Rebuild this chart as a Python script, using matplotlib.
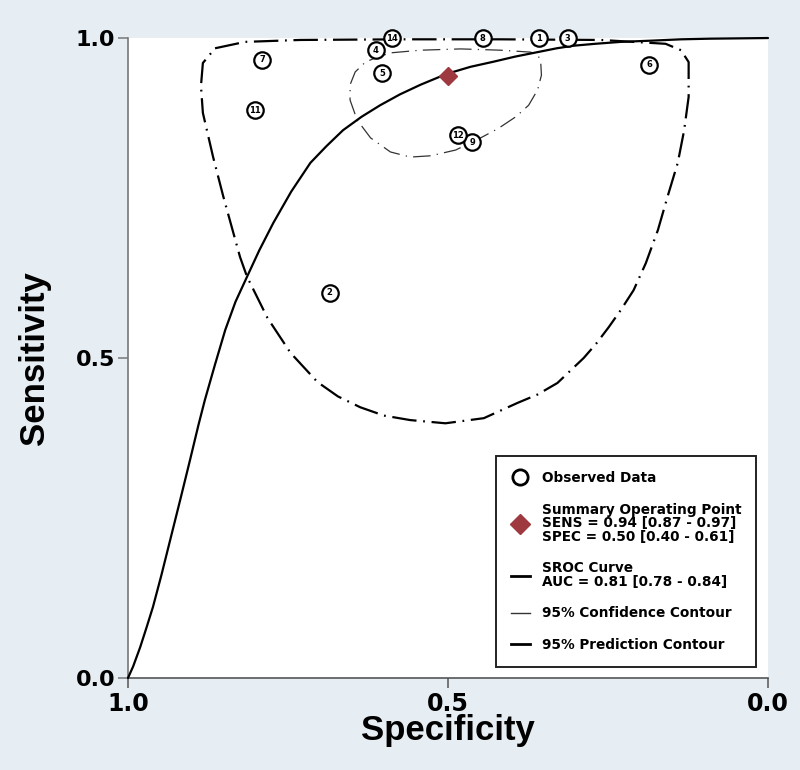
import matplotlib
matplotlib.use("Agg")
import matplotlib.pyplot as plt
from matplotlib.lines import Line2D

# ---------------- data ----------------
study_labels = ["1", "2", "3", "4", "5", "6", "7", "8", "9", "11", "12", "14"]
study_spec = [0.358, 0.685, 0.313, 0.613, 0.603, 0.186, 0.790, 0.446, 0.462, 0.801, 0.485, 0.587]
study_sens = [1.000, 0.602, 1.000, 0.981, 0.945, 0.958, 0.966, 1.000, 0.8375, 0.8875, 0.848, 1.000]

summary_spec = 0.50
summary_sens = 0.94

sroc_spec = [1.0, 0.992, 0.981, 0.971, 0.961, 0.948, 0.934, 0.918, 0.903, 0.890,
             0.880, 0.864, 0.848, 0.832, 0.814, 0.795, 0.773, 0.745, 0.715, 0.690,
             0.664, 0.635, 0.606, 0.575, 0.543, 0.502, 0.465, 0.429, 0.395, 0.360,
             0.330, 0.304, 0.270, 0.230, 0.180, 0.136, 0.090, 0.0]
sroc_sens = [0.0, 0.018, 0.048, 0.079, 0.111, 0.160, 0.216, 0.280, 0.341, 0.395,
             0.434, 0.490, 0.544, 0.588, 0.627, 0.668, 0.711, 0.760, 0.805, 0.831,
             0.856, 0.877, 0.895, 0.912, 0.927, 0.944, 0.955, 0.963, 0.971, 0.978,
             0.984, 0.988, 0.991, 0.994, 0.996, 0.998, 0.999, 1.0]

conf_spec = [0.588, 0.543, 0.480, 0.418, 0.371, 0.359, 0.355, 0.354, 0.360, 0.374, 0.394,
             0.421, 0.449, 0.488, 0.527, 0.559, 0.590, 0.621, 0.642, 0.653, 0.653,
             0.645, 0.629, 0.606, 0.588]
conf_sens = [0.977, 0.981, 0.983, 0.981, 0.978, 0.973, 0.960, 0.942, 0.919, 0.895, 0.877,
             0.859, 0.844, 0.825, 0.816, 0.814, 0.822, 0.844, 0.872, 0.903, 0.927,
             0.947, 0.9625, 0.972, 0.977]

pred_spec = [0.864, 0.817, 0.731, 0.574, 0.418, 0.261, 0.160, 0.136, 0.124, 0.124,
             0.131, 0.141, 0.157, 0.172, 0.191, 0.210, 0.230, 0.249, 0.268, 0.288,
             0.329, 0.360, 0.391, 0.444, 0.504, 0.559, 0.600, 0.637, 0.672, 0.704,
             0.746, 0.782, 0.814, 0.825, 0.851, 0.867, 0.883, 0.886, 0.883, 0.864]
pred_sens = [0.984, 0.994, 0.997, 0.998, 0.998, 0.997, 0.991, 0.981, 0.9625, 0.908,
             0.856, 0.805, 0.752, 0.700, 0.648, 0.606, 0.575, 0.548, 0.523, 0.500,
             0.461, 0.443, 0.430, 0.406, 0.398, 0.403, 0.410, 0.423, 0.440, 0.4625,
             0.508, 0.5625, 0.627, 0.658, 0.752, 0.814, 0.883, 0.925, 0.961, 0.984]

x_ticks = [1.0, 0.5, 0.0]
y_ticks = [0.0, 0.5, 1.0]
x_tick_labels = ["1.0", "0.5", "0.0"]
y_tick_labels = ["0.0", "0.5", "1.0"]

legend_labels = [
    "Observed Data",
    "Summary Operating Point\nSENS = 0.94 [0.87 - 0.97]\nSPEC = 0.50 [0.40 - 0.61]",
    "SROC Curve\nAUC = 0.81 [0.78 - 0.84]",
    "95% Confidence Contour",
    "95% Prediction Contour",
]

# ---------------- figure ----------------
BG = "#e6eef3"
fig = plt.figure(figsize=(8.0, 7.7), dpi=100, facecolor=BG)
ax = fig.add_axes([0.16, 0.1195, 0.80, 0.8311])
ax.set_facecolor("white")

ax.set_xlim(1.0, 0.0)
ax.set_ylim(0.0, 1.0)

# prediction contour
ax.plot(pred_spec, pred_sens, color="black", lw=1.6,
        linestyle=(0, (11, 3, 0.8, 3)), clip_on=False, zorder=2)
# confidence contour
ax.plot(conf_spec, conf_sens, color="#333333", lw=0.9,
        linestyle=(0, (14, 5, 1, 5)), clip_on=False, zorder=2)
# SROC curve
ax.plot(sroc_spec, sroc_sens, color="black", lw=1.6, clip_on=False, zorder=3,
        solid_capstyle="round", solid_joinstyle="round")

# observed data
ax.scatter(study_spec, study_sens, s=140, facecolor="white", edgecolor="black",
           linewidth=1.6, zorder=5, clip_on=False)
for lab, sx, sy in zip(study_labels, study_spec, study_sens):
    ax.text(sx, sy, lab, ha="center", va="center", fontsize=6,
            fontweight="bold", family="DejaVu Sans", zorder=6, clip_on=False)

# summary point
ax.plot([summary_spec], [summary_sens], marker="D", color="#9e3a3f",
        markersize=9, linestyle="none", zorder=7)

# axes styling
for side in ["top", "right"]:
    ax.spines[side].set_visible(False)
ax.spines["left"].set_color("#777777")
ax.spines["bottom"].set_color("#555555")
ax.spines["left"].set_linewidth(1.2)
ax.spines["bottom"].set_linewidth(1.2)

ax.set_xticks(x_ticks)
ax.set_xticklabels(x_tick_labels, fontsize=17, fontweight="bold", family="DejaVu Sans")
ax.set_yticks(y_ticks)
ax.set_yticklabels(y_tick_labels, fontsize=16, fontweight="bold", family="DejaVu Sans")
ax.tick_params(axis="x", length=7, width=1.1, color="#555555", pad=3)
ax.tick_params(axis="y", length=7, width=1.1, color="#777777", pad=2)

ax.set_xlabel("Specificity", fontsize=25, fontweight="bold",
              family="Liberation Sans", labelpad=-1)
ax.set_ylabel("Sensitivity", fontsize=25, fontweight="bold",
              family="Liberation Sans", labelpad=18)

# legend
handles = [
    Line2D([], [], marker="o", linestyle="none", markersize=11,
           markerfacecolor="white", markeredgecolor="black", markeredgewidth=2),
    Line2D([], [], marker="D", linestyle="none", markersize=10, color="#9e3a3f"),
    Line2D([], [], color="black", lw=2.0),
    Line2D([], [], color="#333333", lw=1.0),
    Line2D([], [], color="black", lw=2.0),
]
leg = ax.legend(handles, legend_labels, loc="lower right",
                bbox_to_anchor=(0.982, 0.017), frameon=True, fancybox=False,
                edgecolor="#222222", facecolor="white", framealpha=1,
                handlelength=1.4, handletextpad=0.9, labelspacing=1.3,
                borderpad=1.1, borderaxespad=0,
                prop={"family": "DejaVu Sans", "weight": "bold", "size": 9.8})
leg.get_frame().set_linewidth(1.4)
for t in leg.get_texts():
    t.set_linespacing(0.95)

fig.savefig("out.png", dpi=100, facecolor=BG)
